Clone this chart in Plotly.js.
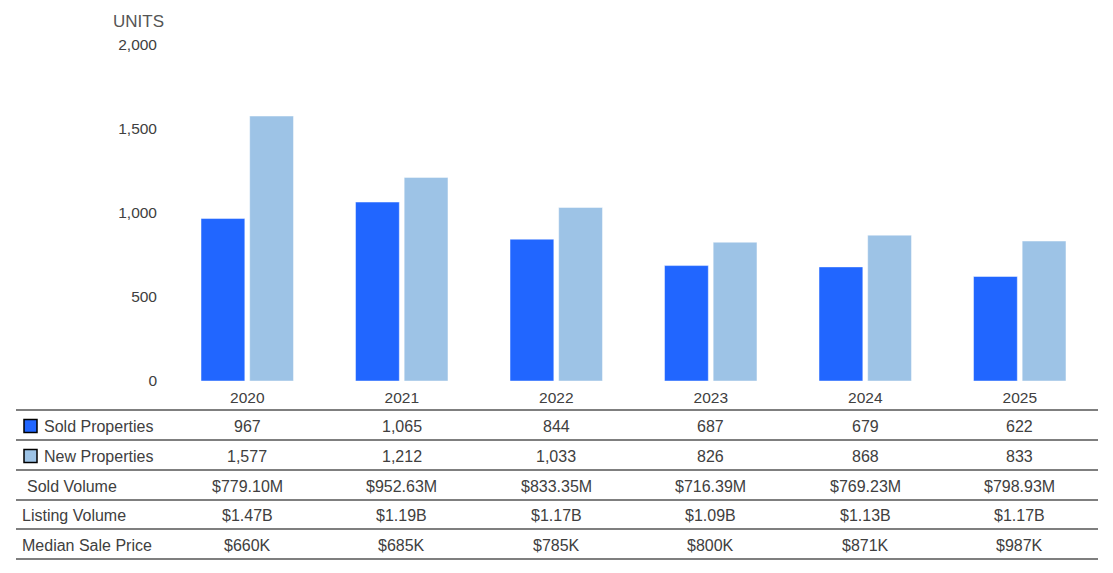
<!DOCTYPE html>
<html>
<head>
<meta charset="utf-8">
<script src="https://cdn.plot.ly/plotly-3.0.1.min.js"></script>
<style>html,body{margin:0;padding:0;background:#fff;}#chart{width:1113px;height:573px;}</style>
</head>
<body>
<div id="chart"></div>
<script>
const years = ['2020', '2021', '2022', '2023', '2024', '2025'];
const soldProperties = [967, 1065, 844, 687, 679, 622];
const newProperties = [1577, 1212, 1033, 826, 868, 833];
const soldVolume = ['$779.10M', '$952.63M', '$833.35M', '$716.39M', '$769.23M', '$798.93M'];
const listingVolume = ['$1.47B', '$1.19B', '$1.17B', '$1.09B', '$1.13B', '$1.17B'];
const medianSalePrice = ['$660K', '$685K', '$785K', '$800K', '$871K', '$987K'];
const seriesNames = ['Sold Properties', 'New Properties'];
const seriesColors = ['#2166ff', '#9dc3e6'];
const rowLabels = ['Sold Properties', 'New Properties', 'Sold Volume', 'Listing Volume', 'Median Sale Price'];

const W = 1113, H = 573;
const mL = 170, mR = 16, mT = 45, mB = 192;
const plotW = W - mL - mR, plotH = H - mT - mB;
const px2x = p => (p - mL) / plotW;
const px2y = p => (H - mB - p) / plotH;

const fontFam = 'Liberation Sans, Arial, sans-serif';
const textColor = '#404040';

const traces = [
  {type: 'bar', name: seriesNames[0], x: years, y: soldProperties,
   marker: {color: seriesColors[0], line: {color: 'rgba(255,255,255,0.45)', width: 1}}, hoverinfo: 'x+y'},
  {type: 'bar', name: seriesNames[1], x: years, y: newProperties,
   marker: {color: seriesColors[1], line: {color: 'rgba(255,255,255,0.45)', width: 1}}, hoverinfo: 'x+y'}
];

const rowValues = [
  soldProperties.map(v => v.toLocaleString('en-US')),
  newProperties.map(v => v.toLocaleString('en-US')),
  soldVolume, listingVolume, medianSalePrice
];
const rowCenters = [426, 456, 486, 515, 545];
const lineYs = [410, 440, 470, 500, 529, 559];
const labelX = [44, 44, 27, 22, 22];

const annotations = [];
const shapes = [];

annotations.push({xref: 'paper', yref: 'paper', x: px2x(138.5), y: px2y(21), text: 'UNITS',
  showarrow: false, xanchor: 'center', yanchor: 'middle', font: {family: fontFam, size: 17, color: '#555'}});

rowLabels.forEach((lab, r) => {
  annotations.push({xref: 'paper', yref: 'paper', x: px2x(labelX[r]), y: px2y(rowCenters[r]), text: lab,
    showarrow: false, xanchor: 'left', yanchor: 'middle', xshift: -2, font: {family: fontFam, size: 16, color: textColor}});
  rowValues[r].forEach((v, i) => {
    annotations.push({xref: 'x', yref: 'paper', x: i, y: px2y(rowCenters[r]), text: v,
      showarrow: false, xanchor: 'center', yanchor: 'middle', font: {family: fontFam, size: 16, color: textColor}});
  });
});

lineYs.forEach(p => {
  shapes.push({type: 'line', xref: 'paper', yref: 'paper', x0: px2x(16), x1: px2x(1098), y0: px2y(p), y1: px2y(p),
    line: {color: '#7f7f7f', width: 2}});
});

seriesColors.forEach((c, r) => {
  const cy = rowCenters[r];
  shapes.push({type: 'rect', xref: 'paper', yref: 'paper', x0: px2x(24), x1: px2x(37), y0: px2y(cy + 6.5), y1: px2y(cy - 6.5),
    fillcolor: c, line: {color: '#000', width: 1.5}});
});

const layout = {
  width: W, height: H,
  margin: {l: mL, r: mR, t: mT, b: mB, pad: 0},
  paper_bgcolor: '#fff', plot_bgcolor: '#fff',
  showlegend: false,
  barmode: 'group', bargap: 0.37, bargroupgap: 0.1,
  font: {family: fontFam, size: 15, color: textColor},
  xaxis: {type: 'category', showgrid: false, zeroline: false, showline: false, ticks: '', ticklabelstandoff: 5,
    tickfont: {family: fontFam, size: 15.5, color: textColor}, fixedrange: true},
  yaxis: {range: [0, 2000], dtick: 500, tickformat: ',', showgrid: false, zeroline: false, showline: false,
    ticks: '', ticklabelstandoff: 12, tickfont: {family: fontFam, size: 15.5, color: textColor}, fixedrange: true},
  annotations: annotations,
  shapes: shapes
};

Plotly.newPlot('chart', traces, layout, {displayModeBar: false, staticPlot: true});
</script>
</body>
</html>
